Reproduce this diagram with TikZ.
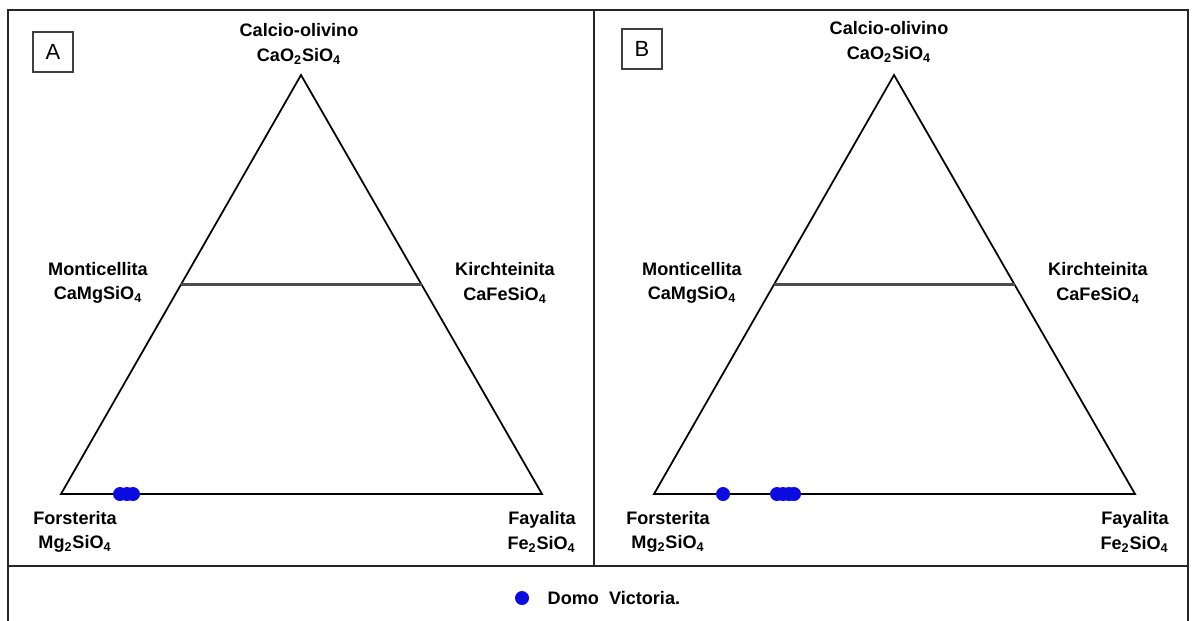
\documentclass[tikz,border=0pt]{standalone}
\usepackage{fontspec}
\setmainfont{Liberation Sans}
\usetikzlibrary{positioning}
\usetikzlibrary{calc}
\definecolor{domoblue}{RGB}{12,12,225}

\tikzset{
 mineral/.style={font=\fontsize{10.3}{14}\selectfont\bfseries, align=center, inner sep=0pt},
 panel/.style={draw=black!75, line width=0.6pt, minimum size=0.8cm, inner sep=0pt, font=\fontsize{12.5}{14}\selectfont},
 sample/.style={shape=circle, fill=domoblue, minimum size=0.28cm, inner sep=0pt},
 edge/.style={line width=1pt},
 frame/.style={line width=1pt, black!85}
}

\begin{document}
\begin{tikzpicture}[x=0.02cm,y=-0.02cm]
\useasboundingbox (0,0) rectangle (1195,620);
% frame
\draw [frame] (8,622) |- (1188,10) -- (1188,622);
\draw [frame] (8,566) -- (1188,566);
\draw [frame] (594,10) -- (594,566);

% panel A
\path
(53,52) node [panel] (boxA) {A}
(301,75) coordinate (caA)
(61,494) coordinate (mgA)
(542,494) coordinate (feA)
($(mgA)!0.5!(caA)$) coordinate (mcA)
($(feA)!0.5!(caA)$) coordinate (kiA);
\draw [edge] (mgA) -- (caA) -- (feA) -- cycle;
\draw [edge, black!70, line width=1.2pt] (mcA) -- (kiA);
\node [mineral] (olA) at (299,44) {Calcio-olivino\\CaO\textsubscript{2}SiO\textsubscript{4}};
\node [mineral] (moA) at (98,283) {Monticellita\\CaMgSiO\textsubscript{4}};
\node [mineral] (krA) at (505,283) {Kirchteinita\\CaFeSiO\textsubscript{4}};
\node [mineral] (foA) at (75,532) {Forsterita\\Mg\textsubscript{2}SiO\textsubscript{4}};
\node [mineral, align=right, anchor=east] (faA) at (576,532) {Fayalita\\Fe\textsubscript{2}SiO\textsubscript{4}};
\path
(120,494) node [sample] (a1) {}
(127,494) node [sample] (a2) {}
(133,494) node [sample] (a3) {};

% panel B
\path
(642,49) node [panel] (boxB) {B}
(894,75) coordinate (caB)
(654,494) coordinate (mgB)
(1135,494) coordinate (feB)
($(mgB)!0.5!(caB)$) coordinate (mcB)
($(feB)!0.5!(caB)$) coordinate (kiB);
\draw [edge] (mgB) -- (caB) -- (feB) -- cycle;
\draw [edge, black!70, line width=1.2pt] (mcB) -- (kiB);
\node [mineral] (olB) at (889,42) {Calcio-olivino\\CaO\textsubscript{2}SiO\textsubscript{4}};
\node [mineral] (moB) at (692,283) {Monticellita\\CaMgSiO\textsubscript{4}};
\node [mineral] (krB) at (1098,283) {Kirchteinita\\CaFeSiO\textsubscript{4}};
\node [mineral] (foB) at (668,532) {Forsterita\\Mg\textsubscript{2}SiO\textsubscript{4}};
\node [mineral, align=right, anchor=east] (faB) at (1169,532) {Fayalita\\Fe\textsubscript{2}SiO\textsubscript{4}};
\path
(723,494) node [sample] (b1) {}
(777,494) node [sample] (b2) {}
(783,494) node [sample] (b3) {}
(789,494) node [sample] (b4) {}
(794,494) node [sample] (b5) {};

% legend
\node [sample] (key) at (522,598) {};
\node [mineral, right=0.36cm of key] (keytext) {Domo~~Victoria.};

\end{tikzpicture}
\end{document}
